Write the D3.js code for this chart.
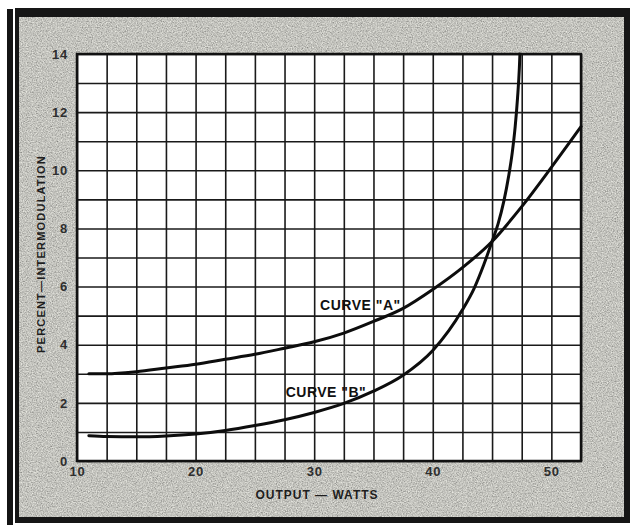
<!DOCTYPE html>
<html><head><meta charset="utf-8">
<script src="https://cdn.jsdelivr.net/npm/d3@7"></script>
<style>html,body{margin:0;padding:0;background:#fff;} svg{display:block;}</style>
</head><body>
<svg id="c" width="634" height="525"></svg>
<script>
// ---- data ----
const curveAWatts   = [11, 12.5, 15, 17.5, 20, 22.5, 25, 27.5, 30, 32.5, 35, 37.5, 40, 42.5, 45, 47.5, 50, 52.5];
const curveAPercent = [3.0, 3.0, 3.07, 3.2, 3.33, 3.5, 3.67, 3.88, 4.1, 4.4, 4.8, 5.25, 5.9, 6.65, 7.55, 8.75, 10.1, 11.5];
const curveBWatts   = [11, 12.5, 15, 17.5, 20, 22.5, 25, 27.5, 30, 32.5, 35, 37.5, 40, 42.5, 43.5, 44.3, 45, 45.5, 46.0, 46.4, 46.7, 46.95, 47.15, 47.3, 47.35];
const curveBPercent = [0.87, 0.84, 0.83, 0.86, 0.93, 1.05, 1.22, 1.42, 1.67, 1.98, 2.4, 2.95, 3.8, 5.2, 5.95, 6.75, 7.55, 8.15, 8.95, 9.8, 10.6, 11.5, 12.5, 13.5, 14.0];
const curveNames    = ['CURVE "A"', 'CURVE "B"'];
const xTickLabels   = [10, 20, 30, 40, 50];
const yTickLabels   = [0, 2, 4, 6, 8, 10, 12, 14];
const xGridValues   = [10, 12.5, 15, 17.5, 20, 22.5, 25, 27.5, 30, 32.5, 35, 37.5, 40, 42.5, 45, 47.5, 50, 52.5];
const yGridValues   = [0, 1, 2, 3, 4, 5, 6, 7, 8, 9, 10, 11, 12, 13, 14];
const xDomain       = [10, 52.5];
const yDomain       = [0, 14];
const xTitle        = "OUTPUT — WATTS";
const yTitle        = "PERCENT—INTERMODULATION";

// ---- layout ----
const svg = d3.select("#c");
const L = 77, R = 581, T = 54, B = 461;
const x = d3.scaleLinear().domain(xDomain).range([L, R]);
const y = d3.scaleLinear().domain(yDomain).range([B, T]);

const defs = svg.append("defs");
const f = defs.append("filter").attr("id", "grain")
  .attr("x", 0).attr("y", 0).attr("width", 1).attr("height", 1);
f.append("feTurbulence").attr("type", "fractalNoise").attr("baseFrequency", 0.8)
  .attr("numOctaves", 3).attr("seed", 7).attr("result", "n");
f.append("feColorMatrix").attr("in", "n").attr("type", "matrix")
  .attr("values", "0.75 0 0 0 0.17  0.75 0 0 0 0.17  0.7 0 0 0 0.16  0 0 0 0 1").attr("result", "g");
f.append("feComposite").attr("in", "g").attr("in2", "SourceGraphic").attr("operator", "in");

// frame
svg.append("rect").attr("x", 7).attr("y", 9).attr("width", 6).attr("height", 516).attr("fill", "#141414");
svg.append("rect").attr("x", 15).attr("y", 8).attr("width", 615).attr("height", 515).attr("fill", "#161616");
svg.append("rect").attr("x", 19).attr("y", 17).attr("width", 605).attr("height", 500)
  .attr("fill", "#8e8e89").attr("filter", "url(#grain)");

// plot area
svg.append("rect").attr("x", L).attr("y", T).attr("width", R - L).attr("height", B - T).attr("fill", "#ffffff");

// grid via axes
svg.append("g").attr("transform", `translate(0,${B})`)
  .call(d3.axisBottom(x).tickValues(xGridValues).tickSize(-(B - T)).tickFormat(""))
  .call(g => g.select(".domain").remove())
  .call(g => g.selectAll("line").attr("stroke", "#1a1a1a").attr("stroke-width", 1.6));
svg.append("g").attr("transform", `translate(${L},0)`)
  .call(d3.axisLeft(y).tickValues(yGridValues).tickSize(-(R - L)).tickFormat(""))
  .call(g => g.select(".domain").remove())
  .call(g => g.selectAll("line").attr("stroke", "#1a1a1a").attr("stroke-width", 1.6));

// plot border
svg.append("rect").attr("x", L).attr("y", T).attr("width", R - L).attr("height", B - T)
  .attr("fill", "none").attr("stroke", "#111").attr("stroke-width", 2.5);

// curves
const line = d3.line().x(d => x(d[0])).y(d => y(d[1])).curve(d3.curveMonotoneX);
const seriesA = curveAWatts.map((w, i) => [w, curveAPercent[i]]);
const seriesB = curveBWatts.map((w, i) => [w, curveBPercent[i]]);
[seriesA, seriesB].forEach(s => {
  svg.append("path").datum(s).attr("d", line).attr("fill", "none")
    .attr("stroke", "#0d0d0d").attr("stroke-width", 3).attr("stroke-linecap", "round");
});

// curve labels
const font = "'Liberation Sans', Arial, sans-serif";
svg.append("text").attr("x", x(30.5)).attr("y", y(5.2)).text(curveNames[0])
  .attr("font-family", font).attr("font-weight", "bold").attr("font-size", 14)
  .attr("letter-spacing", 0.5).attr("fill", "#111");
svg.append("text").attr("x", x(27.6)).attr("y", y(2.2)).text(curveNames[1])
  .attr("font-family", font).attr("font-weight", "bold").attr("font-size", 14)
  .attr("letter-spacing", 0.5).attr("fill", "#111");

// tick labels via axes
const yAx = svg.append("g").attr("transform", `translate(${L},0)`)
  .call(d3.axisLeft(y).tickValues(yTickLabels).tickSize(0).tickPadding(9));
yAx.select(".domain").remove();
yAx.selectAll("text").attr("font-family", font).attr("font-weight", "bold").attr("font-size", 13)
  .attr("letter-spacing", 0.8).attr("fill", "#2e2e2e");

const xAx = svg.append("g").attr("transform", `translate(0,${B})`)
  .call(d3.axisBottom(x).tickValues(xTickLabels).tickSize(0).tickPadding(6));
xAx.select(".domain").remove();
xAx.selectAll("text").attr("font-family", font).attr("font-weight", "bold").attr("font-size", 13)
  .attr("letter-spacing", 0.8).attr("fill", "#2e2e2e");

// titles
svg.append("text").attr("x", 317).attr("y", 499).attr("text-anchor", "middle").text(xTitle)
  .attr("font-family", font).attr("font-weight", "bold").attr("font-size", 12)
  .attr("letter-spacing", 1).attr("fill", "#1e1e1e");
svg.append("text").attr("transform", "translate(45,254) rotate(-90)").attr("text-anchor", "middle").text(yTitle)
  .attr("font-family", font).attr("font-weight", "bold").attr("font-size", 11)
  .attr("letter-spacing", 1.2).attr("fill", "#1e1e1e");
</script>
</body></html>
